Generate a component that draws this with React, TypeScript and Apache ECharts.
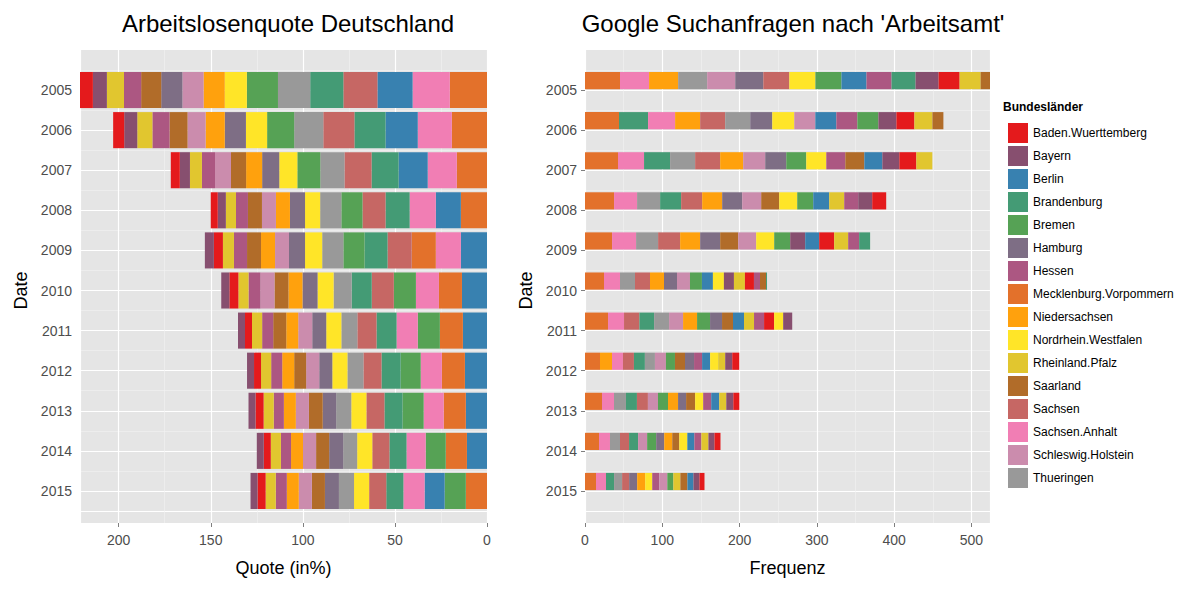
import { useEffect, useRef } from 'react';
import * as echarts from 'echarts';

const years = ['2005', '2006', '2007', '2008', '2009', '2010', '2011', '2012', '2013', '2014', '2015'];

const states = [
  'Baden.Wuerttemberg', 'Bayern', 'Berlin', 'Brandenburg', 'Bremen', 'Hamburg', 'Hessen',
  'Mecklenburg.Vorpommern', 'Niedersachsen', 'Nordrhein.Westfalen', 'Rheinland.Pfalz',
  'Saarland', 'Sachsen', 'Sachsen.Anhalt', 'Schleswig.Holstein', 'Thueringen',
];
const stateColors = [
  '#E41A1C', '#874F6F', '#3881B0', '#449B75', '#56A255', '#7E6E85', '#AC5782',
  '#E3712B', '#FFA10D', '#FFE528', '#E1C62F', '#B16C29', '#C66764', '#F17EB4', '#CB8CAD', '#999999',
];

// short keys for the stacking order (from the zero line outwards)
const K: Record<string, number> = {
  BW: 0, BY: 1, BE: 2, BB: 3, HB: 4, HH: 5, HE: 6, MV: 7, NI: 8, NW: 9, RP: 10, SL: 11, SN: 12, ST: 13, SH: 14, TH: 15,
};

const quoteOrder = [
  'MV ST BE SN BB TH HB NW NI SH HH SL HE RP BY BW',
  'MV ST BE BB SN TH HB NW HH NI SH SL HE RP BY BW',
  'MV ST BE BB SN TH HB NW HH NI SL SH HE RP BY BW',
  'MV BE ST BB SN HB TH NW HH NI SH SL HE RP BY BW',
  'BE ST MV SN BB HB TH NW HH SH NI SL HE RP BW BY',
  'BE MV ST HB SN BB TH NW HH NI SL SH HE RP BW BY',
  'BE MV HB ST BB SN TH NW HH SH NI SL HE RP BW BY',
  'BE MV ST HB BB SN TH NW HH SH SL NI HE RP BW BY',
  'BE MV ST HB BB SN NW TH HH SL SH NI HE RP BW BY',
  'BE MV HB ST BB SN NW TH HH SL SH NI HE RP BW BY',
  'MV HB BE ST BB SN NW TH HH SL SH NI HE RP BW BY',
];
const quoteValues = [
  [20.2, 20.2, 19.1, 18.5, 18.0, 17.5, 16.9, 12.0, 11.5, 11.5, 11.5, 10.9, 9.3, 9.3, 7.6, 7.1],
  [19.1, 18.5, 17.5, 16.9, 16.9, 15.8, 14.7, 11.5, 11.5, 10.4, 9.8, 9.8, 9.3, 8.2, 7.1, 6.0],
  [16.4, 15.8, 15.8, 14.7, 14.7, 13.1, 12.5, 9.8, 9.3, 8.7, 8.2, 8.7, 7.1, 6.5, 5.5, 4.9],
  [14.2, 13.6, 14.2, 13.1, 12.5, 11.5, 11.5, 8.2, 8.2, 7.6, 7.6, 7.6, 6.5, 5.5, 4.4, 3.8],
  [14.2, 13.6, 13.1, 13.1, 12.5, 11.5, 11.5, 9.3, 8.7, 7.6, 7.6, 7.6, 7.1, 6.0, 4.9, 4.9],
  [13.6, 12.5, 12.5, 12.0, 12.0, 10.9, 9.8, 8.7, 8.2, 7.6, 7.6, 7.6, 6.5, 5.5, 4.9, 4.4],
  [13.1, 12.5, 12.0, 11.5, 10.9, 10.4, 8.7, 8.2, 7.6, 7.6, 6.5, 7.1, 6.0, 5.5, 3.8, 3.8],
  [12.0, 12.5, 11.5, 10.9, 10.4, 9.8, 8.7, 8.2, 7.1, 7.1, 6.5, 6.5, 6.0, 5.5, 3.8, 3.8],
  [11.5, 12.0, 10.9, 11.5, 9.8, 9.8, 8.2, 8.2, 7.3, 7.5, 7.1, 6.5, 5.5, 5.5, 4.4, 3.8],
  [10.9, 11.5, 10.9, 10.4, 9.3, 9.3, 8.2, 7.6, 7.6, 7.1, 7.1, 6.5, 5.5, 5.5, 3.8, 3.8],
  [11.5, 11.5, 10.9, 11.5, 9.3, 9.3, 8.2, 8.2, 7.6, 7.1, 7.1, 6.5, 6.0, 5.5, 4.4, 3.8],
];

const searchOrder = [
  'MV ST NI TH SH HH SN NW HB BE HE BB BY BW RP SL',
  'MV BB ST NI SN TH HH NW SH BE HE HB BY BW RP SL',
  'MV ST BB TH SN NI SH HH HB NW HE SL BE BY BW RP',
  'MV ST TH BB SN NI HH SH SL NW HB BE RP HE BY BW',
  'MV ST TH SN NI HH SL SH NW HB BY BE BW RP HE BB',
  'MV ST TH SN NI HH SH HB BE NW BY RP BW HE SL BB',
  'MV ST SN BB TH SH NI HB HH SL BE RP HE BW NW BY',
  'MV NI ST SN BB TH SH HB SL HH HE BE NW RP BY BW',
  'MV ST TH BB SN SH HB NI HH SL NW HE BE RP BY BW',
  'MV ST TH SN BB SH HB HH NI SL NW BE HE RP BY BW',
  'MV ST BB TH SN HH NI NW HE SH HB RP SL BE BY BW',
];
const searchValues = [
  [45.3, 37.6, 37.6, 37.6, 36.3, 36.3, 33.7, 33.7, 33.7, 32.4, 32.4, 31.1, 29.8, 27.2, 27.2, 14],
  [44.0, 37.6, 35.0, 32.4, 32.4, 32.4, 28.5, 28.5, 27.2, 27.2, 27.2, 27.2, 23.3, 23.3, 23.3, 14.2],
  [42.7, 33.7, 33.7, 32.4, 32.4, 29.8, 28.5, 27.2, 25.9, 25.9, 24.6, 24.6, 23.3, 22.0, 22.0, 20.7],
  [37.6, 29.8, 29.8, 27.2, 27.2, 25.9, 25.9, 24.6, 23.3, 23.3, 20.7, 20.7, 19.4, 18.1, 18.1, 18.1],
  [35.0, 31.1, 28.5, 28.5, 25.9, 25.9, 23.3, 23.3, 23.3, 20.7, 19.4, 18.1, 19.4, 18.1, 14.2, 14.2],
  [24.6, 20.7, 19.4, 19.4, 18.1, 16.8, 16.8, 15.5, 14.2, 14.2, 13.0, 14.2, 11.7, 7.8, 7.8, 1.3],
  [29.8, 20.7, 19.9, 19.0, 19.4, 18.1, 18.1, 16.8, 15.5, 14.2, 14.2, 13.0, 13.0, 13.0, 11.7, 11.7],
  [19.4, 15.5, 14.2, 14.2, 14.2, 13.0, 14.2, 11.7, 13.0, 11.7, 10.4, 10.4, 10.4, 9.1, 9.1, 9.1],
  [22.0, 15.5, 15.5, 14.2, 14.2, 13.0, 13.0, 13.0, 10.4, 11.7, 10.4, 10.4, 10.4, 9.1, 9.1, 7.8],
  [18.1, 14.2, 13.0, 11.7, 11.7, 11.7, 11.7, 10.4, 10.4, 9.1, 10.4, 9.1, 9.1, 9.1, 7.8, 7.8],
  [14.2, 13.0, 10.4, 10.4, 9.1, 10.4, 10.4, 9.1, 9.1, 10.4, 7.8, 9.1, 9.1, 7.8, 7.8, 6.5],
];

const FONT = 'Liberation Sans';
const TICK = { color: '#4d4d4d', fontSize: 14, fontFamily: FONT };
const NAME = { fontSize: 18, fontFamily: FONT, color: '#000' };

// grids 0/1: background panels with the visible x axes; grids 2/3: the bars
function rankSeries(order: string[], values: number[][], gi: number) {
  return states.map((_, r) => ({
    type: 'bar',
    stack: 's' + gi,
    xAxisIndex: gi + 2,
    yAxisIndex: gi * 2,
    barCategoryGap: '10%',
    clip: true,
    data: years.map((_, y) => {
      const st = K[order[y].split(' ')[r]];
      return { value: values[y][r], itemStyle: { color: stateColors[st] } };
    }),
  }));
}

function yAxes(gi: number) {
  return [
    {
      type: 'category', gridIndex: gi + 2, data: years, inverse: true,
      axisLine: { show: false },
      axisTick: { show: true, alignWithLabel: true, length: 4, lineStyle: { color: '#7f7f7f' } },
      axisLabel: { ...TICK, margin: 8 },
      splitLine: { show: true, lineStyle: { color: '#f2f2f2', width: 0.6 } },
      name: 'Date', nameLocation: 'middle', nameGap: 50, nameTextStyle: NAME,
    },
    {
      type: 'category', gridIndex: gi + 2, data: years.flatMap((y) => [y + 'a', y + 'b']), inverse: true,
      axisLine: { show: false }, axisTick: { show: false }, axisLabel: { show: false },
      splitLine: { show: true, interval: (i: number) => i % 2 === 1, lineStyle: { color: '#ffffff', width: 1.2 } },
    },
  ];
}

function bgY(gi: number) {
  return { type: 'value', gridIndex: gi, min: 0, max: 1, show: false, splitLine: { show: false } };
}

export default function App() {
  const ref = useRef<HTMLDivElement>(null);

  useEffect(() => {
    if (!ref.current) return;
    const chart = echarts.init(ref.current, undefined, { renderer: 'svg' });
    const xShown = {
      type: 'value',
      axisLine: { show: false },
      axisTick: { show: true, length: 4, lineStyle: { color: '#7f7f7f' } },
      axisLabel: { ...TICK, margin: 10, showMaxLabel: false },
      splitLine: { show: true, lineStyle: { color: '#ffffff', width: 1.2 } },
      minorTick: { show: false, splitNumber: 2 },
      minorSplitLine: { show: true, lineStyle: { color: '#f2f2f2', width: 0.6 } },
      nameLocation: 'middle',
      nameGap: 36,
      nameTextStyle: NAME,
    };
    const xHidden = {
      type: 'value', axisLine: { show: false }, axisTick: { show: false },
      axisLabel: { show: false }, splitLine: { show: false },
    };
    chart.setOption({
      animation: false,
      textStyle: { fontFamily: FONT },
      title: [
        { text: 'Arbeitslosenquote Deutschland', left: 283, top: 6, textAlign: 'center', textStyle: { fontSize: 24, fontWeight: 'normal', fontFamily: FONT, color: '#000' } },
        { text: "Google Suchanfragen nach 'Arbeitsamt'", left: 788, top: 6, textAlign: 'center', textStyle: { fontSize: 24, fontWeight: 'normal', fontFamily: FONT, color: '#000' } },
      ],
      grid: [
        { left: 80, right: 691, top: 50, bottom: 66, show: true, backgroundColor: '#e5e5e5', borderWidth: 0 },
        { left: 585, right: 188, top: 50, bottom: 66, show: true, backgroundColor: '#e5e5e5', borderWidth: 0 },
        { left: 80, right: 691, top: 70, bottom: 78 },
        { left: 585, right: 188, top: 70, bottom: 78 },
      ],
      xAxis: [
        { ...xShown, gridIndex: 0, min: 0, max: 221, interval: 50, inverse: true, name: 'Quote (in%)' },
        { ...xShown, gridIndex: 1, min: 0, max: 524, interval: 100, name: 'Frequenz' },
        { ...xHidden, gridIndex: 2, min: 0, max: 221, inverse: true },
        { ...xHidden, gridIndex: 3, min: 0, max: 524 },
      ],
      yAxis: [...yAxes(0), ...yAxes(1), bgY(0), bgY(1)],
      legend: {
        orient: 'vertical', left: 1003, top: 118, itemWidth: 20, itemHeight: 20, itemGap: 3,
        icon: 'rect', selectedMode: false,
        textStyle: { fontSize: 12, fontFamily: FONT, color: '#000' },
        data: states,
      },
      graphic: [
        { type: 'text', left: 1003, top: 101, style: { text: 'Bundesländer', font: `bold 12px "${FONT}"`, fill: '#000' } },
      ],
      series: [
        ...rankSeries(quoteOrder, quoteValues, 0),
        ...rankSeries(searchOrder, searchValues, 1),
        ...states.map((s, i) => ({
          name: s, type: 'bar', xAxisIndex: 3, yAxisIndex: 2, stack: 'legend',
          itemStyle: { color: stateColors[i] }, data: [],
        })),
      ],
    });
    return () => chart.dispose();
  }, []);

  return <div ref={ref} style={{ position: 'fixed', left: 0, top: 0, width: 1178, height: 589, background: '#fff' }} />;
}
